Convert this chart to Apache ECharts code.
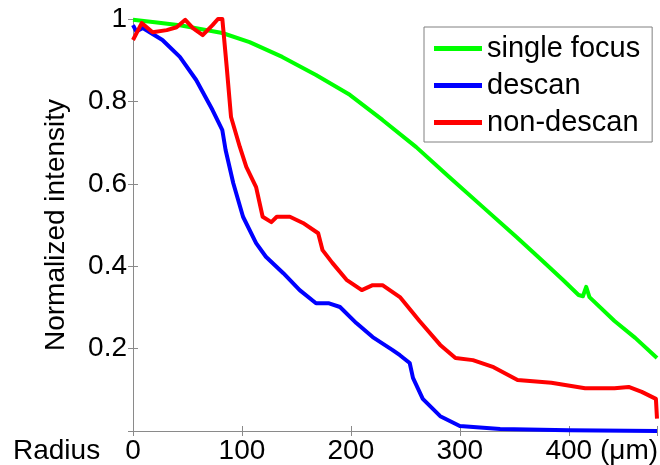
<!DOCTYPE html>
<html>
<head>
<meta charset="utf-8">
<script src="https://cdn.jsdelivr.net/npm/echarts@6/dist/echarts.min.js"></script>
<style>
html,body{margin:0;padding:0;background:#fff;}
#main{width:660px;height:465px;}
</style>
</head>
<body>
<div id="main"></div>
<script>
// radius (um) / normalized intensity
var singleX = [0, 20, 43, 82, 107, 137, 168, 199, 229, 260, 290, 321, 352, 375, 395, 409, 413, 416, 419, 442, 461, 481];
var singleY = [0.998, 0.992, 0.985, 0.966, 0.944, 0.908, 0.864, 0.816, 0.755, 0.689, 0.617, 0.544, 0.471, 0.415, 0.366, 0.33, 0.327, 0.35, 0.325, 0.267, 0.226, 0.177];

var descanX = [0, 3, 9, 27, 43, 58, 73, 82, 85, 92, 101, 113, 122, 138, 153, 168, 180, 190, 205, 220, 238, 245, 254, 257, 266, 282, 300, 337, 400, 481];
var descanY = [0.985, 0.97, 0.978, 0.949, 0.908, 0.852, 0.779, 0.73, 0.682, 0.602, 0.52, 0.456, 0.423, 0.383, 0.342, 0.31, 0.31, 0.301, 0.262, 0.228, 0.197, 0.184, 0.165, 0.129, 0.078, 0.036, 0.012, 0.005, 0.002, 0.0];

var nonDescanX = [0, 8, 18, 31, 40, 48, 55, 64, 73, 78, 82, 86, 90, 98, 104, 113, 119, 127, 132, 144, 156, 170, 174, 183, 196, 210, 220, 229, 245, 263, 282, 296, 312, 331, 353, 384, 415, 442, 455, 467, 480, 481];
var nonDescanY = [0.949, 0.99, 0.968, 0.973, 0.98, 0.998, 0.978, 0.961, 0.985, 1.0, 1.0, 0.884, 0.762, 0.69, 0.641, 0.592, 0.52, 0.507, 0.52, 0.52, 0.505, 0.48, 0.439, 0.408, 0.367, 0.342, 0.354, 0.354, 0.325, 0.267, 0.209, 0.177, 0.172, 0.155, 0.124, 0.117, 0.104, 0.104, 0.107, 0.095, 0.078, 0.03];

var seriesNames = ["single focus", "descan", "non-descan"];
var seriesColors = ["#00ff00", "#0000ff", "#ff0000"];
var xTicks = [0, 100, 200, 300, 400];
var yTicks = [0.2, 0.4, 0.6, 0.8, 1];

var fontFam = "Liberation Sans, Arial, sans-serif";
var axisGray = "#8a8a8a";

function pairs(xs, ys) {
    var out = [];
    for (var i = 0; i < xs.length; i++) out.push([xs[i], ys[i]]);
    return out;
}

function makeSeries(name, color, xs, ys) {
    return {
        name: name,
        type: "line",
        data: pairs(xs, ys),
        showSymbol: false,
        clip: true,
        lineStyle: { color: color, width: 4, join: "round" },
        itemStyle: { color: color },
        emphasis: { disabled: true }
    };
}

function xLabel(v) {
    return xTicks.indexOf(v) >= 0 ? String(v) : "";
}
function yLabel(v) {
    for (var i = 0; i < yTicks.length; i++) {
        if (Math.abs(yTicks[i] - v) < 1e-6) return String(yTicks[i]);
    }
    return "";
}

var chart = echarts.init(document.getElementById("main"), null, { renderer: "canvas" });
var option = {
    animation: false,
    backgroundColor: "#fff",
    textStyle: { fontFamily: fontFam },
    grid: { left: 133, right: 2, top: 19, bottom: 33, containLabel: false },
    legend: {
        orient: "vertical",
        left: 424,
        top: 27,
        padding: [7, 12, 5, 10],
        itemGap: 8,
        itemWidth: 48,
        itemHeight: 5,
        icon: "rect",
        borderColor: "#808080",
        borderWidth: 1,
        backgroundColor: "#fff",
        data: seriesNames,
        textStyle: { fontSize: 29, color: "#000", fontFamily: fontFam }
    },
    xAxis: [{
        type: "value",
        min: 0,
        max: 481,
        interval: 100,
        position: "bottom",
        axisLine: { lineStyle: { color: axisGray, width: 1 } },
        axisTick: { inside: true, length: 5, lineStyle: { color: axisGray } },
        axisLabel: { formatter: xLabel, fontSize: 28, color: "#000", margin: 6, fontFamily: fontFam },
        splitLine: { show: false }
    }, {
        type: "value",
        min: 0,
        max: 481,
        interval: 100,
        position: "top",
        axisLine: { lineStyle: { color: axisGray, width: 1 } },
        axisTick: { inside: true, length: 5, lineStyle: { color: axisGray } },
        axisLabel: { show: false },
        splitLine: { show: false }
    }],
    yAxis: [{
        type: "value",
        min: 0,
        max: 1,
        interval: 0.2,
        name: "Normalized intensity",
        nameLocation: "middle",
        nameGap: 63,
        nameTextStyle: { fontSize: 28, color: "#000", fontFamily: fontFam },
        axisLine: { show: true, lineStyle: { color: axisGray, width: 1 } },
        axisTick: { inside: true, length: 5, lineStyle: { color: axisGray } },
        axisLabel: { formatter: yLabel, fontSize: 28, color: "#000", margin: 6, fontFamily: fontFam },
        splitLine: { show: false }
    }, {
        type: "value",
        min: 0,
        max: 1,
        interval: 0.2,
        position: "right",
        axisLine: { show: true, lineStyle: { color: axisGray, width: 1 } },
        axisTick: { inside: true, length: 5, lineStyle: { color: axisGray } },
        axisLabel: { show: false },
        splitLine: { show: false }
    }],
    graphic: [{
        type: "text",
        left: 13,
        top: 437,
        style: { text: "Radius", fontSize: 28, fill: "#000", fontFamily: fontFam }
    }, {
        type: "text",
        left: 600,
        top: 437,
        style: { text: "(\u03bcm)", fontSize: 28, fill: "#000", fontFamily: fontFam }
    }],
    series: [
        makeSeries(seriesNames[0], seriesColors[0], singleX, singleY),
        makeSeries(seriesNames[1], seriesColors[1], descanX, descanY),
        makeSeries(seriesNames[2], seriesColors[2], nonDescanX, nonDescanY)
    ]
};
chart.setOption(option);
</script>
</body>
</html>
